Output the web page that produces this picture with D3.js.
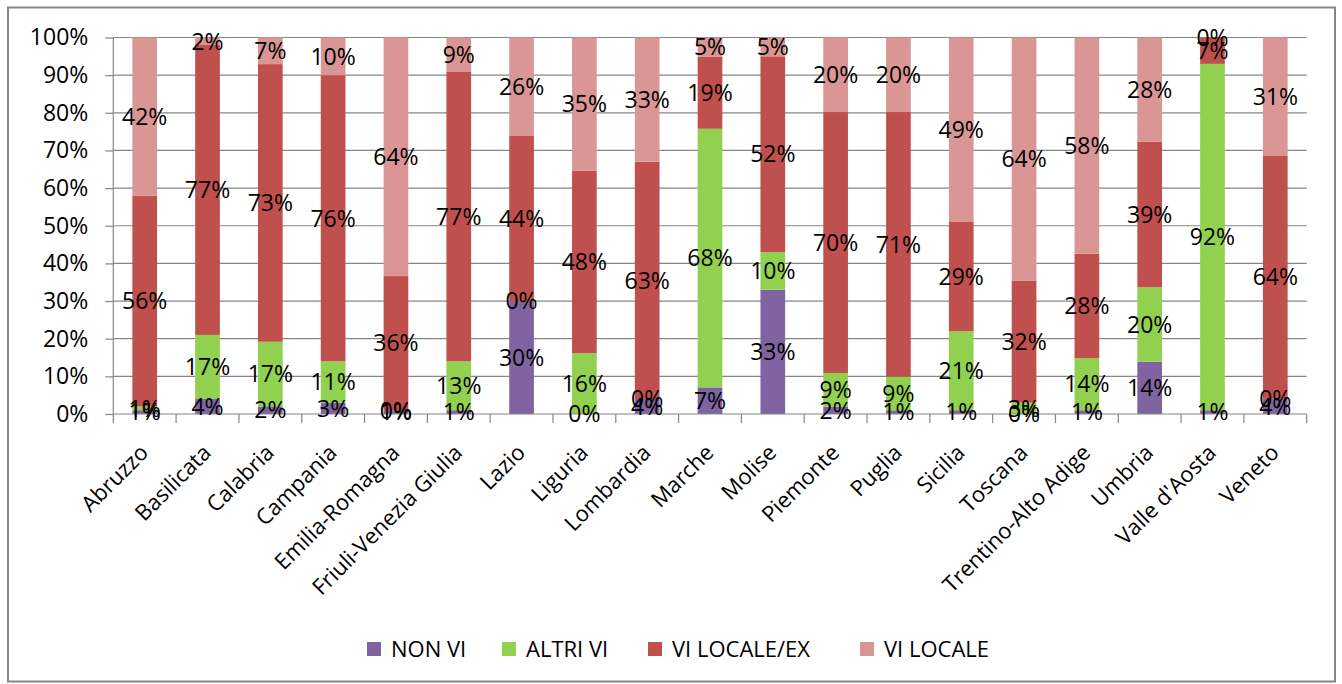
<!DOCTYPE html>
<html>
<head>
<meta charset="utf-8">
<script src="https://cdn.jsdelivr.net/npm/d3@7"></script>
<style>
  html, body { margin: 0; padding: 0; background: #fff; }
  svg { display: block; }
  text { font-family: "Open Sans", "Liberation Sans", sans-serif; fill: #000; }
</style>
</head>
<body>
<svg id="chart" width="1342" height="684"></svg>
<script>
// Regions (categories along the x axis)
const regions = [
  "Abruzzo", "Basilicata", "Calabria", "Campania", "Emilia-Romagna",
  "Friuli-Venezia Giulia", "Lazio", "Liguria", "Lombardia", "Marche",
  "Molise", "Piemonte", "Puglia", "Sicilia", "Toscana",
  "Trentino-Alto Adige", "Umbria", "Valle d'Aosta", "Veneto"
];

// Series names, bottom to top of each stack
const seriesNames = ["NON VI", "ALTRI VI", "VI LOCALE/EX", "VI LOCALE"];

// Shares per region, in percent
const nonVi       = [ 1,  4,  2,  3,  1,  1, 30,  0,  4,  7, 33,  2,  1,  1,  0,  1, 14,  1,  4];
const altriVi     = [ 1, 17, 17, 11,  0, 13,  0, 16,  0, 68, 10,  9,  9, 21,  3, 14, 20, 92,  0];
const viLocaleEx  = [56, 77, 73, 76, 36, 77, 44, 48, 63, 19, 52, 70, 71, 29, 32, 28, 39,  7, 64];
const viLocale    = [42,  2,  7, 10, 64,  9, 26, 35, 33,  5,  5, 20, 20, 49, 64, 58, 28,  0, 31];

// Y axis tick values
const yTicks = [0, 0.1, 0.2, 0.3, 0.4, 0.5, 0.6, 0.7, 0.8, 0.9, 1];

const colors = ["#8064A2", "#92D050", "#C0504D", "#D99694"];

// Rows for the stack layout
const seriesValues = [nonVi, altriVi, viLocaleEx, viLocale];
const rows = regions.map((r, i) => {
  const row = { region: r };
  seriesNames.forEach((s, k) => { row[s] = seriesValues[k][i]; });
  return row;
});

const svg = d3.select("#chart");
const gridColor = "#868686";

// Outer chart frame
svg.append("rect")
  .attr("x", 8).attr("y", 7.5)
  .attr("width", 1327).attr("height", 674)
  .attr("fill", "#fff")
  .attr("stroke", gridColor)
  .attr("stroke-width", 2);

const plotLeft = 113.3, plotRight = 1306.7, plotTop = 37.5, plotBottom = 414;

const x = d3.scaleBand().domain(regions).range([plotLeft, plotRight]).padding(0);
const y = d3.scaleLinear().domain([0, 1]).range([plotBottom, plotTop]);

const barW = x.bandwidth() * 0.393;

// Horizontal gridlines
svg.append("g")
  .selectAll("line")
  .data(yTicks.filter(t => t > 0))
  .join("line")
  .attr("x1", plotLeft).attr("x2", plotRight)
  .attr("y1", d => y(d)).attr("y2", d => y(d))
  .attr("stroke", gridColor)
  .attr("stroke-width", 1.2);

// Stacked, normalised to 100%
const stack = d3.stack()
  .keys(seriesNames)
  .offset(d3.stackOffsetExpand);
const layers = stack(rows);

const barOffset = (x.bandwidth() - barW) / 2;

svg.append("g")
  .selectAll("g")
  .data(layers)
  .join("g")
  .attr("fill", (d, i) => colors[i])
  .selectAll("rect")
  .data(d => d)
  .join("rect")
  .attr("x", d => x(d.data.region) + barOffset)
  .attr("width", barW)
  .attr("y", d => y(d[1]))
  .attr("height", d => Math.max(0, y(d[0]) - y(d[1])));

// Y axis
const yAxis = d3.axisLeft(y)
  .tickValues(yTicks)
  .tickFormat(d3.format(".0%"))
  .tickSize(8)
  .tickPadding(17);

const gy = svg.append("g")
  .attr("transform", `translate(${plotLeft},0)`)
  .call(yAxis);
gy.select(".domain").attr("stroke", gridColor).attr("stroke-width", 1.2)
  .attr("d", `M0,${plotTop}V${plotBottom}`);
gy.selectAll(".tick line").attr("stroke", gridColor).attr("stroke-width", 1.2);
gy.selectAll(".tick text")
  .attr("font-size", 23)
  .attr("font-family", "'Open Sans', 'Liberation Sans', sans-serif")
  .attr("fill", "#000");

// X axis baseline and category divider ticks
const gx = svg.append("g");
gx.append("line")
  .attr("x1", plotLeft).attr("x2", plotRight)
  .attr("y1", plotBottom).attr("y2", plotBottom)
  .attr("stroke", gridColor).attr("stroke-width", 1.2);
const boundaries = regions.map(r => x(r)).concat([plotRight]);
gx.selectAll("line.tick")
  .data(boundaries)
  .join("line")
  .attr("class", "tick")
  .attr("x1", d => d).attr("x2", d => d)
  .attr("y1", plotBottom).attr("y2", plotBottom + 9)
  .attr("stroke", gridColor).attr("stroke-width", 1.2);

// Rotated category labels
gx.selectAll("text")
  .data(regions)
  .join("text")
  .attr("text-anchor", "end")
  .attr("font-size", 22)
  .attr("transform", d => `translate(${x(d) + x.bandwidth() / 2 + 5},${plotBottom + 40}) rotate(-45)`)
  .text(d => d);

// Data labels centred on each segment
const fmt = v => Math.round(v) + "%";
const labels = svg.append("g");
layers.forEach((layer, k) => {
  labels.selectAll(null)
    .data(layer)
    .join("text")
    .attr("x", d => x(d.data.region) + x.bandwidth() / 2)
    .attr("y", d => y((d[0] + d[1]) / 2))
    .attr("dy", "0.36em")
    .attr("text-anchor", "middle")
    .attr("font-size", 23)
    .text(d => fmt(d.data[seriesNames[k]]));
});

// Legend
const legendX = [367, 502, 648, 860];
const legend = svg.append("g");
seriesNames.forEach((s, i) => {
  legend.append("rect")
    .attr("x", legendX[i]).attr("y", 642)
    .attr("width", 14).attr("height", 14)
    .attr("fill", colors[i]);
  legend.append("text")
    .attr("x", legendX[i] + 24).attr("y", 649)
    .attr("dy", "0.36em")
    .attr("font-size", 22)
    .text(s);
});
</script>
</body>
</html>
